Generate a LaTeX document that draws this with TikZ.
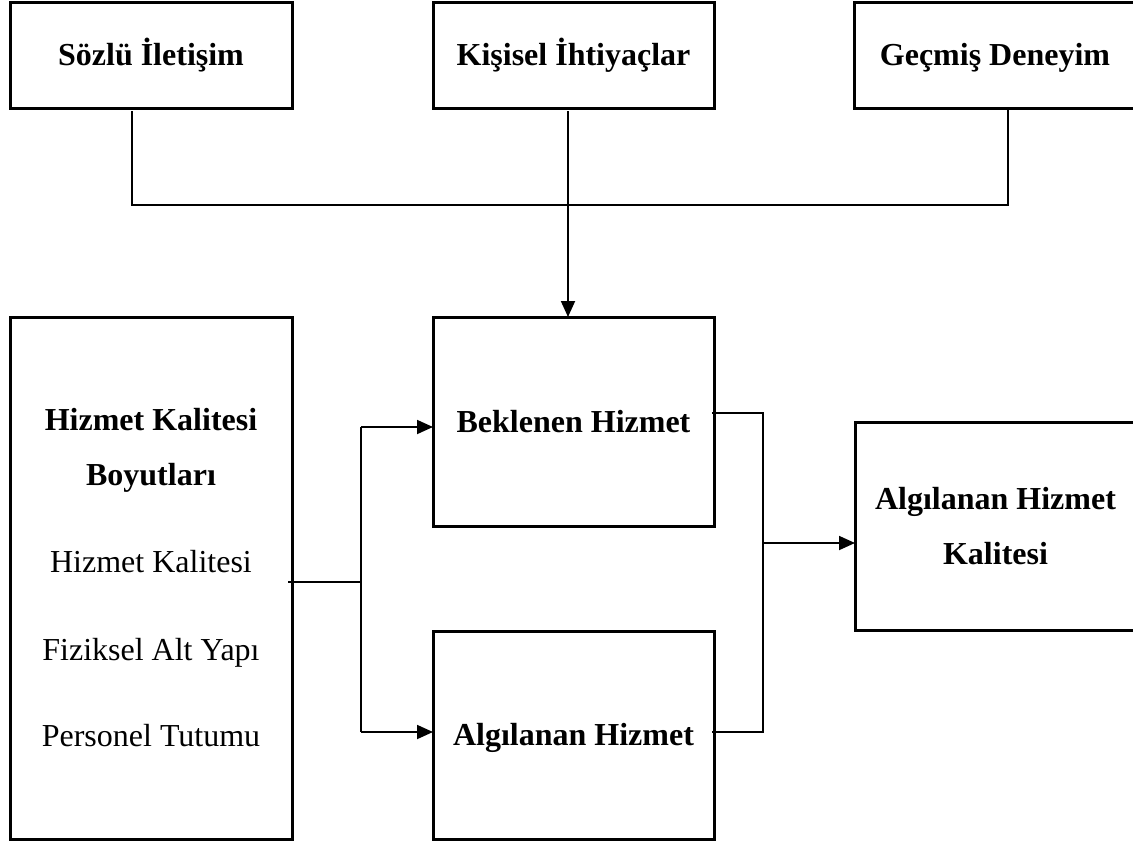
\documentclass[tikz,border=0pt]{standalone}
\usepackage{fontspec}
\setmainfont{Liberation Serif}
\usetikzlibrary{arrows.meta}
\tikzset{
  box/.style={draw, line width=3pt, inner sep=0pt, outer sep=0pt, fill=none},
  oneline/.style={text height=21pt, text depth=0pt},
  conn/.style={draw, line width=1.8pt},
  arr/.style={conn, -{Triangle[length=16pt,width=14pt]}},
}
\begin{document}
\begin{tikzpicture}[x=1pt,y=-1pt, font=\fontsize{32}{55}\selectfont]
\useasboundingbox (0,0) rectangle (1133,843);
\clip (0,0) rectangle (1133,843);
% top boxes
\node[box, oneline, font=\fontsize{32}{55}\selectfont\bfseries, minimum width=282pt, minimum height=105pt] (soz) at (151,55.5) {Sözlü İletişim};
\node[box, oneline, font=\fontsize{32}{55}\selectfont\bfseries, minimum width=281pt, minimum height=105pt] (kis) at (573.5,55.5) {Kişisel İhtiyaçlar};
\node[box, oneline, font=\fontsize{32}{55}\selectfont\bfseries, minimum width=282pt, minimum height=105pt] (gec) at (995,55.5) {Geçmiş Deneyim};
% left box
\node[box, align=center, minimum width=282pt, minimum height=522pt] (hkb) at (151,578)
  {\textbf{Hizmet Kalitesi}\\\textbf{Boyutları}\\[32pt]Hizmet Kalitesi\\[33pt]Fiziksel Alt Yapı\\[31pt]Personel Tutumu};
% middle boxes
\node[box, oneline, font=\fontsize{32}{55}\selectfont\bfseries, minimum width=281pt, minimum height=209pt] (bek) at (573.5,421.5) {Beklenen Hizmet};
\node[box, oneline, font=\fontsize{32}{55}\selectfont\bfseries, minimum width=281pt, minimum height=208pt] (alg) at (573.5,735) {Algılanan Hizmet};
% right box
\node[box, align=center, font=\fontsize{32}{55}\selectfont\bfseries, minimum width=281pt, minimum height=208pt] (ahk) at (995.5,526) {Algılanan Hizmet\\Kalitesi};
% junction coordinates
\coordinate (sj) at (132,205);
\coordinate (kj) at (568,205);
\coordinate (gj) at (1008,205);
\coordinate (lj) at (361,582);
\coordinate (b1) at (361,427);
\coordinate (b2) at (361,732);
\coordinate (r1) at (763,413);
\coordinate (r2) at (763,732);
\coordinate (r3) at (763,543);
% top connectors
\draw[conn, shorten <=3pt] (soz.south -| sj) -- (sj) -- (gj) -- (gec.south -| gj);
\draw[arr, shorten <=3pt] (kis.south -| kj) -- (bek.north -| kj);
% left connectors
\draw[conn] ([xshift=-4pt]hkb.east |- lj) -- (lj);
\draw[conn] (b1) -- (b2);
\draw[arr] (b1) -- (b1 -| bek.west);
\draw[arr] (b2) -- (b2 -| alg.west);
% right connectors
\draw[conn] ([xshift=-2pt]bek.east |- r1) -- (r1) -- (r2) -- ([xshift=-2pt]alg.east |- r2);
\draw[arr] (r3) -- (r3 -| ahk.west);
\end{tikzpicture}
\end{document}
